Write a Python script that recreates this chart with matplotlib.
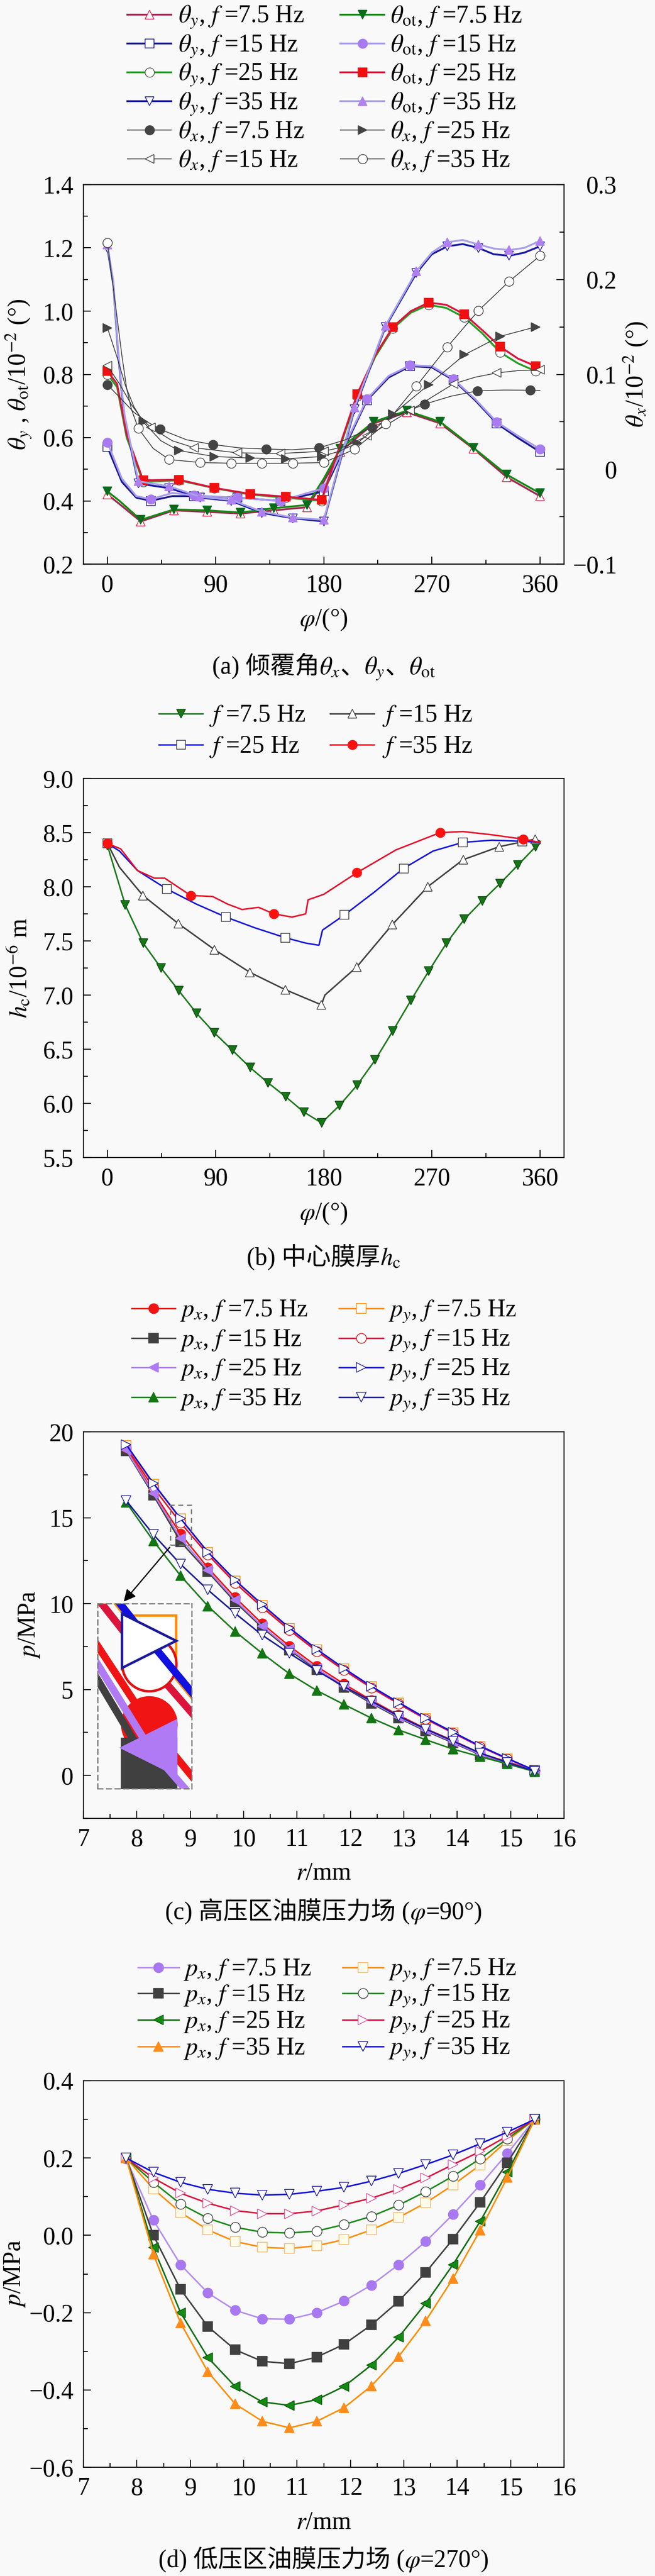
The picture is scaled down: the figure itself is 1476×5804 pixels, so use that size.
import matplotlib
matplotlib.use('Agg')
import matplotlib.pyplot as plt
from matplotlib.ticker import MultipleLocator
from matplotlib.patches import Rectangle
from matplotlib.lines import Line2D
from matplotlib.offsetbox import TextArea, HPacker, AnnotationBbox

plt.rcParams['font.family'] = ['Liberation Serif', 'Noto Sans CJK SC']
plt.rcParams['mathtext.fontset'] = 'stix'
plt.rcParams['axes.unicode_minus'] = True

W, H = 1476, 5804
FS = 40

# ---------------- (a) 倾覆角 ----------------
phi_a75 = [0, 10, 27.7, 55.4, 83.1, 110.8, 138.5, 166.2, 180, 193.8, 221.5, 249.2, 276.9, 304.6, 332.3, 360]
thy_75 = [0.42, 0.39, 0.335, 0.37, 0.365, 0.36, 0.37, 0.38, 0.46, 0.555, 0.645, 0.68, 0.645, 0.565, 0.475, 0.415]
thot_75 = [0.43, 0.40, 0.34, 0.373, 0.37, 0.363, 0.377, 0.387, 0.47, 0.565, 0.65, 0.685, 0.65, 0.568, 0.483, 0.424]
mk_a75 = [0, 2, 3, 4, 5, 6, 7, 9, 10, 11, 12, 13, 14, 15]

phi_a15 = [0, 12, 24, 36, 54, 72, 108, 144, 180, 216, 234, 252, 270, 288, 306, 324, 342, 360]
thy_15 = [0.57, 0.46, 0.41, 0.40, 0.415, 0.415, 0.41, 0.40, 0.43, 0.718, 0.79, 0.826, 0.822, 0.782, 0.718, 0.645, 0.598, 0.555]
thot_15 = [0.585, 0.47, 0.415, 0.405, 0.425, 0.417, 0.41, 0.40, 0.44, 0.722, 0.795, 0.829, 0.826, 0.785, 0.722, 0.649, 0.605, 0.564]
mk_a15 = [0, 3, 5, 6, 7, 8, 9, 11, 13, 15, 17]

phi_a25 = [0, 8, 16, 29.7, 59.4, 89.1, 118.8, 148.5, 178.2, 207.9, 222.8, 237.6, 252.5, 267.3, 282, 297, 311.9, 326.7, 341.6, 356.4]
thy_25 = [0.80, 0.76, 0.60, 0.46, 0.465, 0.44, 0.42, 0.41, 0.40, 0.73, 0.855, 0.945, 0.995, 1.02, 1.01, 0.98, 0.93, 0.87, 0.835, 0.81]
thot_25 = [0.81, 0.77, 0.61, 0.465, 0.467, 0.441, 0.422, 0.413, 0.403, 0.738, 0.86, 0.95, 1.0, 1.027, 1.02, 0.99, 0.94, 0.888, 0.85, 0.826]
mk_a25 = [0, 3, 4, 5, 6, 7, 8, 9, 11, 13, 15, 17, 19]

phi_a35 = [0, 5, 8.4, 11.7, 14.3, 25.7, 51.4, 77.1, 102.9, 128.6, 154.3, 180, 205.7, 231.4, 257.1, 270,
           282.9, 295.7, 308.6, 321.4, 334.3, 347, 360]
thy_35 = [1.20, 1.08, 0.89, 0.75, 0.66, 0.455, 0.44, 0.41, 0.40, 0.362, 0.345, 0.335, 0.69, 0.95, 1.12, 1.18,
          1.205, 1.212, 1.20, 1.18, 1.175, 1.185, 1.205]
thot_35 = [1.21, 1.09, 0.90, 0.76, 0.67, 0.462, 0.446, 0.413, 0.403, 0.366, 0.347, 0.34, 0.696, 0.954, 1.126, 1.185,
           1.218, 1.225, 1.211, 1.198, 1.193, 1.20, 1.222]
mk_a35 = [0, 5, 6, 7, 8, 9, 10, 11, 12, 13, 14, 16, 18, 20, 22]

phi_x75 = [0, 10, 22, 33, 44, 66, 88, 110, 132, 154, 176, 198, 220, 242, 264, 286, 308, 330, 352, 360]
thx_75 = [0.089, 0.076, 0.06, 0.05, 0.042, 0.031, 0.026, 0.0225, 0.0213, 0.0205, 0.0225, 0.031, 0.044, 0.057,
          0.0686, 0.077, 0.0826, 0.0835, 0.0833, 0.083]
mk_x75 = [0, 4, 6, 8, 10, 12, 14, 16, 18]

phi_x15 = [0, 10, 20, 28, 36, 54, 72, 108, 144, 180, 198, 216, 234, 252, 270, 288, 306, 324, 342, 360]
thx_15 = [0.109, 0.09, 0.068, 0.054, 0.044, 0.03, 0.0227, 0.0173, 0.0166, 0.019, 0.024, 0.035, 0.048, 0.0618,
          0.076, 0.09, 0.097, 0.1015, 0.104, 0.1047]
mk_x15 = [0, 4, 6, 7, 8, 9, 11, 13, 15, 17, 19]

phi_x25 = [0, 8, 15, 22, 29.7, 44.5, 59.4, 89.1, 118.8, 148.5, 178.2, 193, 207.9, 237.6, 267.3, 297, 326.7, 356.4]
thx_25 = [0.149, 0.118, 0.088, 0.066, 0.05, 0.03, 0.0197, 0.0134, 0.0118, 0.011, 0.0134, 0.019, 0.0275, 0.058,
          0.089, 0.1206, 0.14, 0.15]
mk_x25 = [0, 4, 6, 7, 8, 9, 10, 12, 13, 14, 15, 16, 17]

phi_x35 = [0, 4, 8, 12, 16, 20, 25.7, 38, 51.4, 77.1, 102.9, 128.6, 154.3, 180, 205.7, 231.4, 257.1, 282.9,
           308.6, 334.3, 360]
thx_35 = [0.2385, 0.20, 0.16, 0.12, 0.085, 0.063, 0.043, 0.022, 0.0102, 0.0071, 0.0063, 0.0063, 0.0063, 0.0071,
          0.021, 0.048, 0.0875, 0.129, 0.167, 0.198, 0.225]
mk_x35 = [0, 6, 8, 9, 10, 11, 12, 13, 14, 15, 16, 17, 18, 19, 20]

# ---------------- (b) 中心膜厚 ----------------
phi_b75 = [0, 14.85, 29.7, 44.6, 59.4, 74.3, 89.1, 104, 118.8, 133.7, 148.5, 163.4, 178.2, 193.1, 207.9,
           222.8, 237.6, 252.5, 267.3, 282.2, 297, 311.9, 326.7, 341.6, 356.4, 360]
hc_75 = [8.38, 7.83, 7.48, 7.25, 7.04, 6.83, 6.65, 6.49, 6.33, 6.19, 6.06, 5.92, 5.82, 5.98, 6.17, 6.40, 6.67,
         6.95, 7.22, 7.48, 7.70, 7.87, 8.03, 8.20, 8.37, 8.40]
mk_b75 = list(range(25))

phi_b15 = [0, 10, 29.5, 59, 89, 118.5, 148, 178, 181, 207.5, 237, 266.5, 296, 326, 356, 360]
hc_15 = [8.40, 8.18, 7.92, 7.66, 7.42, 7.21, 7.05, 6.91, 7.00, 7.26, 7.65, 8.00, 8.25, 8.37, 8.44, 8.42]
mk_b15 = [0, 2, 3, 4, 5, 6, 7, 9, 10, 11, 12, 13, 14]

phi_b25 = [0, 10, 25, 49.3, 74, 98.6, 123, 147.9, 165, 176, 179, 197.2, 222, 246.5, 271, 295.8, 320, 345.1, 360]
hc_25 = [8.40, 8.33, 8.15, 7.98, 7.84, 7.72, 7.62, 7.53, 7.48, 7.46, 7.60, 7.74, 7.95, 8.17, 8.33, 8.41, 8.43,
         8.42, 8.41]
mk_b25 = [0, 3, 5, 7, 11, 13, 15, 17]

phi_b35 = [0, 11, 25, 39, 47.6, 69.2, 87.6, 100, 112, 125.8, 138.4, 153.6, 165, 167, 180, 207.6, 240, 276.8,
           296, 320, 346, 360]
hc_35 = [8.40, 8.35, 8.15, 8.08, 8.08, 7.92, 7.91, 7.84, 7.79, 7.81, 7.75, 7.72, 7.75, 7.88, 7.93, 8.13, 8.34,
         8.50, 8.51, 8.48, 8.44, 8.41]
mk_b35 = [0, 5, 10, 15, 17, 20]

# ---------------- (c) 高压区 φ=90° ----------------
r_mm = [7.8, 8.31, 8.82, 9.33, 9.84, 10.35, 10.86, 11.37, 11.88, 12.39, 12.9, 13.41, 13.92, 14.43, 14.94, 15.45]
c_px75 = [19.0, 16.5, 14.05, 12.09, 10.36, 8.83, 7.52, 6.35, 5.32, 4.38, 3.51, 2.72, 2.03, 1.29, 0.79, 0.30]
c_py75 = [19.2, 16.95, 14.93, 12.97, 11.33, 9.9, 8.55, 7.31, 6.2, 5.16, 4.22, 3.31, 2.49, 1.69, 0.97, 0.30]
c_px15 = [18.9, 16.3, 13.6, 11.85, 10.1, 8.6, 7.3, 6.15, 5.13, 4.2, 3.35, 2.58, 1.9, 1.2, 0.72, 0.28]
c_py15 = [19.1, 16.75, 14.7, 12.85, 11.2, 9.78, 8.45, 7.22, 6.12, 5.1, 4.17, 3.28, 2.47, 1.67, 0.96, 0.30]
c_px25 = [18.95, 16.4, 13.8, 11.95, 10.2, 8.68, 7.38, 6.22, 5.2, 4.27, 3.4, 2.63, 1.95, 1.23, 0.74, 0.28]
c_py25 = [19.26, 17.0, 14.95, 13.0, 11.37, 9.94, 8.58, 7.34, 6.23, 5.19, 4.25, 3.34, 2.52, 1.71, 0.99, 0.30]
c_px35 = [15.9, 13.65, 11.62, 9.86, 8.38, 7.1, 5.91, 4.94, 4.13, 3.34, 2.65, 2.08, 1.53, 1.09, 0.67, 0.22]
c_py35 = [16.0, 14.02, 12.29, 10.8, 9.44, 8.16, 7.1, 6.1, 5.17, 4.33, 3.45, 2.7, 2.0, 1.3, 0.75, 0.25]

# ---------------- (d) 低压区 φ=270° ----------------
d_px75 = [0.198, 0.039, -0.076, -0.149, -0.194, -0.216, -0.217, -0.2, -0.17, -0.129, -0.076, -0.016, 0.054, 0.13, 0.212, 0.30]
d_py75 = [0.2, 0.12, 0.059, 0.014, -0.016, -0.031, -0.034, -0.027, -0.011, 0.014, 0.046, 0.084, 0.13, 0.182, 0.245, 0.30]
d_px15 = [0.2, 0.0, -0.14, -0.236, -0.296, -0.326, -0.332, -0.315, -0.282, -0.232, -0.171, -0.096, -0.01, 0.085, 0.188, 0.30]
d_py15 = [0.2, 0.137, 0.081, 0.044, 0.021, 0.008, 0.006, 0.011, 0.028, 0.049, 0.078, 0.113, 0.153, 0.198, 0.25, 0.30]
d_px25 = [0.2, -0.032, -0.20, -0.316, -0.391, -0.431, -0.44, -0.425, -0.391, -0.336, -0.264, -0.176, -0.076, 0.036, 0.163, 0.30]
d_py25 = [0.2, 0.148, 0.109, 0.083, 0.064, 0.056, 0.056, 0.063, 0.079, 0.096, 0.119, 0.148, 0.183, 0.217, 0.257, 0.30]
d_px35 = [0.2, -0.049, -0.227, -0.353, -0.436, -0.481, -0.498, -0.481, -0.446, -0.39, -0.314, -0.221, -0.112, 0.013, 0.15, 0.30]
d_py35 = [0.2, 0.163, 0.137, 0.119, 0.109, 0.104, 0.106, 0.114, 0.124, 0.14, 0.16, 0.183, 0.208, 0.237, 0.267, 0.30]

BG = '#f9f9f9'
fig = plt.figure(figsize=(W / 100, H / 100), dpi=100, facecolor=BG)


def add_ax(top, bottom):
    ax = fig.add_axes([188 / W, 1 - bottom / H, 1083 / W, (bottom - top) / H])
    ax.set_facecolor(BG)
    return ax


def style(ax, xmaj, xmin, ymaj, ymin):
    ax.xaxis.set_major_locator(MultipleLocator(xmaj))
    ax.xaxis.set_minor_locator(MultipleLocator(xmin))
    ax.yaxis.set_major_locator(MultipleLocator(ymaj))
    ax.yaxis.set_minor_locator(MultipleLocator(ymin))
    ax.tick_params(which='both', direction='in', top=False, right=False, width=1.6, labelsize=FS)
    ax.tick_params(which='major', length=12, pad=16)
    ax.tick_params(which='minor', length=7)
    for s in ax.spines.values():
        s.set_linewidth(1.6)


def line(ax, x, y, c, m, fc, ec, lab, mk=None, lw=2.4, ms=15, mew=1.2, z=2):
    return ax.plot(x, y, color=c, lw=lw, marker=m, ms=ms, mfc=fc, mec=ec, mew=mew,
                   markevery=mk, label=lab, zorder=z)[0]


def labels(ax, ylab, xlab, yx, xy):
    ax.set_ylabel(ylab, fontsize=FS, va='center')
    ax.yaxis.set_label_coords(yx, 0.5)
    ax.set_xlabel(xlab, fontsize=FS, va='center')
    ax.xaxis.set_label_coords(0.5, xy)


def caption(y, parts):
    # CJK pieces and mathtext pieces are packed side by side on one baseline
    boxes = [TextArea(p, textprops=dict(fontsize=FS)) for p in parts]
    pack = HPacker(children=boxes, align='baseline', pad=0, sep=0)
    fig.add_artist(AnnotationBbox(pack, (729.5 / W, 1 - y / H), xycoords='figure fraction',
                                  frameon=False, box_alignment=(0.5, 0.5)))


def legend(handles, cols, rows, ms=15):
    # handles in row order, two per row; cols = ((x0, x1, xtext), ...) in pixels
    for i, h in enumerate(handles):
        r, c = divmod(i, 2)
        x0, x1, xt = cols[c]
        fy = 1 - rows[r] / H
        fig.add_artist(Line2D([x0 / W, x1 / W], [fy, fy], transform=fig.transFigure,
                              color=h.get_color(), lw=h.get_linewidth()))
        fig.add_artist(Line2D([(x0 + x1) / 2 / W], [fy], transform=fig.transFigure, ls='none',
                              marker=h.get_marker(), ms=ms, mfc=h.get_markerfacecolor(),
                              mec=h.get_markeredgecolor(), mew=h.get_markeredgewidth()))
        fig.text(xt / W, 1 - (rows[r] + 18) / H, h.get_label(), fontsize=FS, va='baseline', ha='left')


# ================= (a) =================
ax = add_ax(416, 1271)
ax2 = ax.twinx()
W_ = 'white'
h_y75 = line(ax, phi_a75, thy_75, '#a02a50', '^', W_, '#e0204a', r'$\theta_y$, $f$ =7.5 Hz', mk_a75, lw=3)
h_y15 = line(ax, phi_a15, thy_15, '#1c1c8c', 's', W_, '#1c1c8c', r'$\theta_y$, $f$ =15 Hz', mk_a15, lw=3)
h_y25 = line(ax, phi_a25, thy_25, '#22a022', 'o', W_, '#555555', r'$\theta_y$, $f$ =25 Hz', mk_a25, lw=3)
h_y35 = line(ax, phi_a35, thy_35, '#1a1aa8', 'v', W_, '#1a1aa8', r'$\theta_y$, $f$ =35 Hz', mk_a35, lw=3)
h_o75 = line(ax, phi_a75, thot_75, '#138a13', 'v', '#0b6b1b', '#0b6b1b', r'$\theta_{\rm ot}$, $f$ =7.5 Hz', mk_a75, lw=3)
h_o15 = line(ax, phi_a15, thot_15, '#a899f0', 'o', '#a87bf0', '#a87bf0', r'$\theta_{\rm ot}$, $f$ =15 Hz', mk_a15, lw=3)
h_o25 = line(ax, phi_a25, thot_25, '#dc143c', 's', '#f01010', '#f01010', r'$\theta_{\rm ot}$, $f$ =25 Hz', mk_a25, lw=3)
h_o35 = line(ax, phi_a35, thot_35, '#a8a0e6', '^', '#b080f0', '#b080f0', r'$\theta_{\rm ot}$, $f$ =35 Hz', mk_a35, lw=3)

GR = '#3a3a3a'
h_x75 = line(ax2, phi_x75, thx_75, GR, 'o', '#444444', '#444444', r'$\theta_x$, $f$ =7.5 Hz', mk_x75, lw=1.3)
h_x15 = line(ax2, phi_x15, thx_15, GR, '<', W_, '#444444', r'$\theta_x$, $f$ =15 Hz', mk_x15, lw=1.3)
h_x25 = line(ax2, phi_x25, thx_25, GR, '>', '#444444', '#444444', r'$\theta_x$, $f$ =25 Hz', mk_x25, lw=1.3)
h_x35 = line(ax2, phi_x35, thx_35, GR, 'o', W_, '#444444', r'$\theta_x$, $f$ =35 Hz', mk_x35, lw=1.3)

style(ax, 90, 45, 0.2, 0.1)
ax.set_xlim(-20, 380)
ax.set_ylim(0.2, 1.4)
ax2.set_ylim(-0.1, 0.3)
ax2.yaxis.set_major_locator(MultipleLocator(0.1))
ax2.yaxis.set_minor_locator(MultipleLocator(0.05))
ax2.tick_params(which='both', direction='in', width=1.6, labelsize=FS)
ax2.tick_params(which='major', length=12, pad=86)
ax2.tick_params(which='minor', length=7)
ax2.set_yticks([-0.1, 0, 0.1, 0.2, 0.3], ['\u22120.1', '0', '0.1', '0.2', '0.3'])
for t in ax2.yaxis.get_major_ticks():
    t.label2.set_horizontalalignment('right')
for s in ax2.spines.values():
    s.set_linewidth(1.6)
labels(ax, r'$\theta_y$ , $\theta_{\rm ot}$/10$^{-2}$ (°)', r'$\varphi$/(°)', -0.135, -0.147)
ax2.set_ylabel(r'$\theta_x$/10$^{-2}$ (°)', fontsize=FS, va='center')
ax2.yaxis.set_label_coords(1.148, 0.5)
caption(1504, ['(a) 倾覆角', r'$\theta_x$', '、', r'$\theta_y$', '、', r'$\theta_{\rm ot}$'])
legend([h_y75, h_o75, h_y15, h_o15, h_y25, h_o25, h_y35, h_o35, h_x75, h_x25, h_x15, h_x35],
       ((287, 386, 402), (767, 866, 880)), [33, 98, 163, 228, 293, 358])

# ================= (b) =================
ax = add_ax(1754, 2608)
hb1 = line(ax, phi_b75, hc_75, '#1a7a1a', 'v', '#177517', '#0d4d0d', r'$f$ =7.5 Hz', mk_b75)
hb2 = line(ax, phi_b15, hc_15, '#404040', '^', W_, '#404040', r'$f$ =15 Hz', mk_b15)
hb3 = line(ax, phi_b25, hc_25, '#1515e0', 's', W_, '#404040', r'$f$ =25 Hz', mk_b25)
hb4 = line(ax, phi_b35, hc_35, '#e8102a', 'o', '#ff1010', '#ff1010', r'$f$ =35 Hz', mk_b35)
style(ax, 90, 45, 0.5, 0.25)
ax.set_xlim(-20, 380)
ax.set_ylim(5.5, 9.0)
labels(ax, r'$h_{\rm c}$/10$^{-6}$ m', r'$\varphi$/(°)', -0.135, -0.148)
caption(2832, ['(b) 中心膜厚', r'$h_{\rm c}$'])
legend([hb1, hb2, hb3, hb4], ((358, 457, 471), (744, 843, 861)), [1608, 1678])

# ================= (c) =================
ax = add_ax(3226, 4097)
c_series = [
    (c_px75, '#f01414', 'o', '#f01414', '#f01414', r'$p_x$, $f$ =7.5 Hz'),
    (c_py75, '#ff8c00', 's', W_, '#ff8c00', r'$p_y$, $f$ =7.5 Hz'),
    (c_px15, '#404040', 's', '#404040', '#404040', r'$p_x$, $f$ =15 Hz'),
    (c_py15, '#dc143c', 'o', W_, '#e01010', r'$p_y$, $f$ =15 Hz'),
    (c_px25, '#b07af5', '<', '#b07af5', '#b07af5', r'$p_x$, $f$ =25 Hz'),
    (c_py25, '#1010e0', '>', W_, '#1a1a9a', r'$p_y$, $f$ =25 Hz'),
    (c_px35, '#1a7a1a', '^', '#137513', '#137513', r'$p_x$, $f$ =35 Hz'),
    (c_py35, '#1a1a9a', 'v', W_, '#1a1a9a', r'$p_y$, $f$ =35 Hz'),
]
hc = [line(ax, r_mm, y, c, m, fc, ec, lab, ms=16) for y, c, m, fc, ec, lab in c_series]
style(ax, 1, 0.5, 5, 2.5)
ax.set_xlim(7, 16)
ax.set_ylim(-2.5, 20)

# magnified view of the small dashed box
ins = ax.inset_axes([7.27, -0.76, 1.76, 10.76], transform=ax.transData)
for y, c, m, fc, ec, lab in c_series:
    ins.plot(r_mm, y, color=c, lw=12, marker=m, ms=88, mfc=fc, mec=ec, mew=4)
ins.set_xlim(8.645, 8.965)
ins.set_ylim(13.36, 15.35)
ins.set_xticks([])
ins.set_yticks([])
ins.set_facecolor(BG)
for s in ins.spines.values():
    s.set_linestyle((0, (4, 3)))
    s.set_color('#777777')
    s.set_linewidth(2)
ax.add_patch(Rectangle((8.63, 13.4), 0.39, 2.35, fill=False, ls=(0, (4, 3)), ec='#777777', lw=2, zorder=5))
ax.annotate('', xy=(7.74, 10.06), xytext=(8.63, 13.33),
            arrowprops=dict(arrowstyle='-|>', color='black', lw=2, mutation_scale=40), zorder=6)

labels(ax, r'$p$/MPa', r'$r$/mm', -0.113, -0.142)
caption(4307, ['(c) 高压区油膜压力场 (', r'$\varphi$', '=90°)'])
legend(hc, ((297, 395, 405), (764, 864, 875)), [2948, 3015, 3081, 3148], ms=16)

# ================= (d) =================
ax = add_ax(4688, 5559)
d_series = [
    (d_px75, '#b48cf0', 'o', '#a878f0', '#a878f0', r'$p_x$, $f$ =7.5 Hz'),
    (d_py75, '#ff8c00', 's', '#fffbe8', '#f0b870', r'$p_y$, $f$ =7.5 Hz'),
    (d_px15, '#404040', 's', '#404040', '#404040', r'$p_x$, $f$ =15 Hz'),
    (d_py15, '#1a8a1a', 'o', W_, '#404040', r'$p_y$, $f$ =15 Hz'),
    (d_px25, '#117011', '<', '#138a13', '#0d5d0d', r'$p_x$, $f$ =25 Hz'),
    (d_py25, '#dc143c', '>', W_, '#e0509a', r'$p_y$, $f$ =25 Hz'),
    (d_px35, '#ff8c00', '^', '#ff8c1a', '#ff8c1a', r'$p_x$, $f$ =35 Hz'),
    (d_py35, '#1010e0', 'v', W_, '#1a1a9a', r'$p_y$, $f$ =35 Hz'),
]
hd = [line(ax, r_mm, y, c, m, fc, ec, lab, ms=16) for y, c, m, fc, ec, lab in d_series]
style(ax, 1, 0.5, 0.2, 0.1)
ax.set_xlim(7, 16)
ax.set_ylim(-0.6, 0.4)
labels(ax, r'$p$/MPa', r'$r$/mm', -0.143, -0.1435)
caption(5767, ['(d) 低压区油膜压力场 (', r'$\varphi$', '=270°)'])
legend(hd, ((311, 403, 413), (772, 864, 875)), [4433, 4491, 4551, 4611], ms=16)

fig.savefig('out.png', dpi=100, facecolor=BG)
